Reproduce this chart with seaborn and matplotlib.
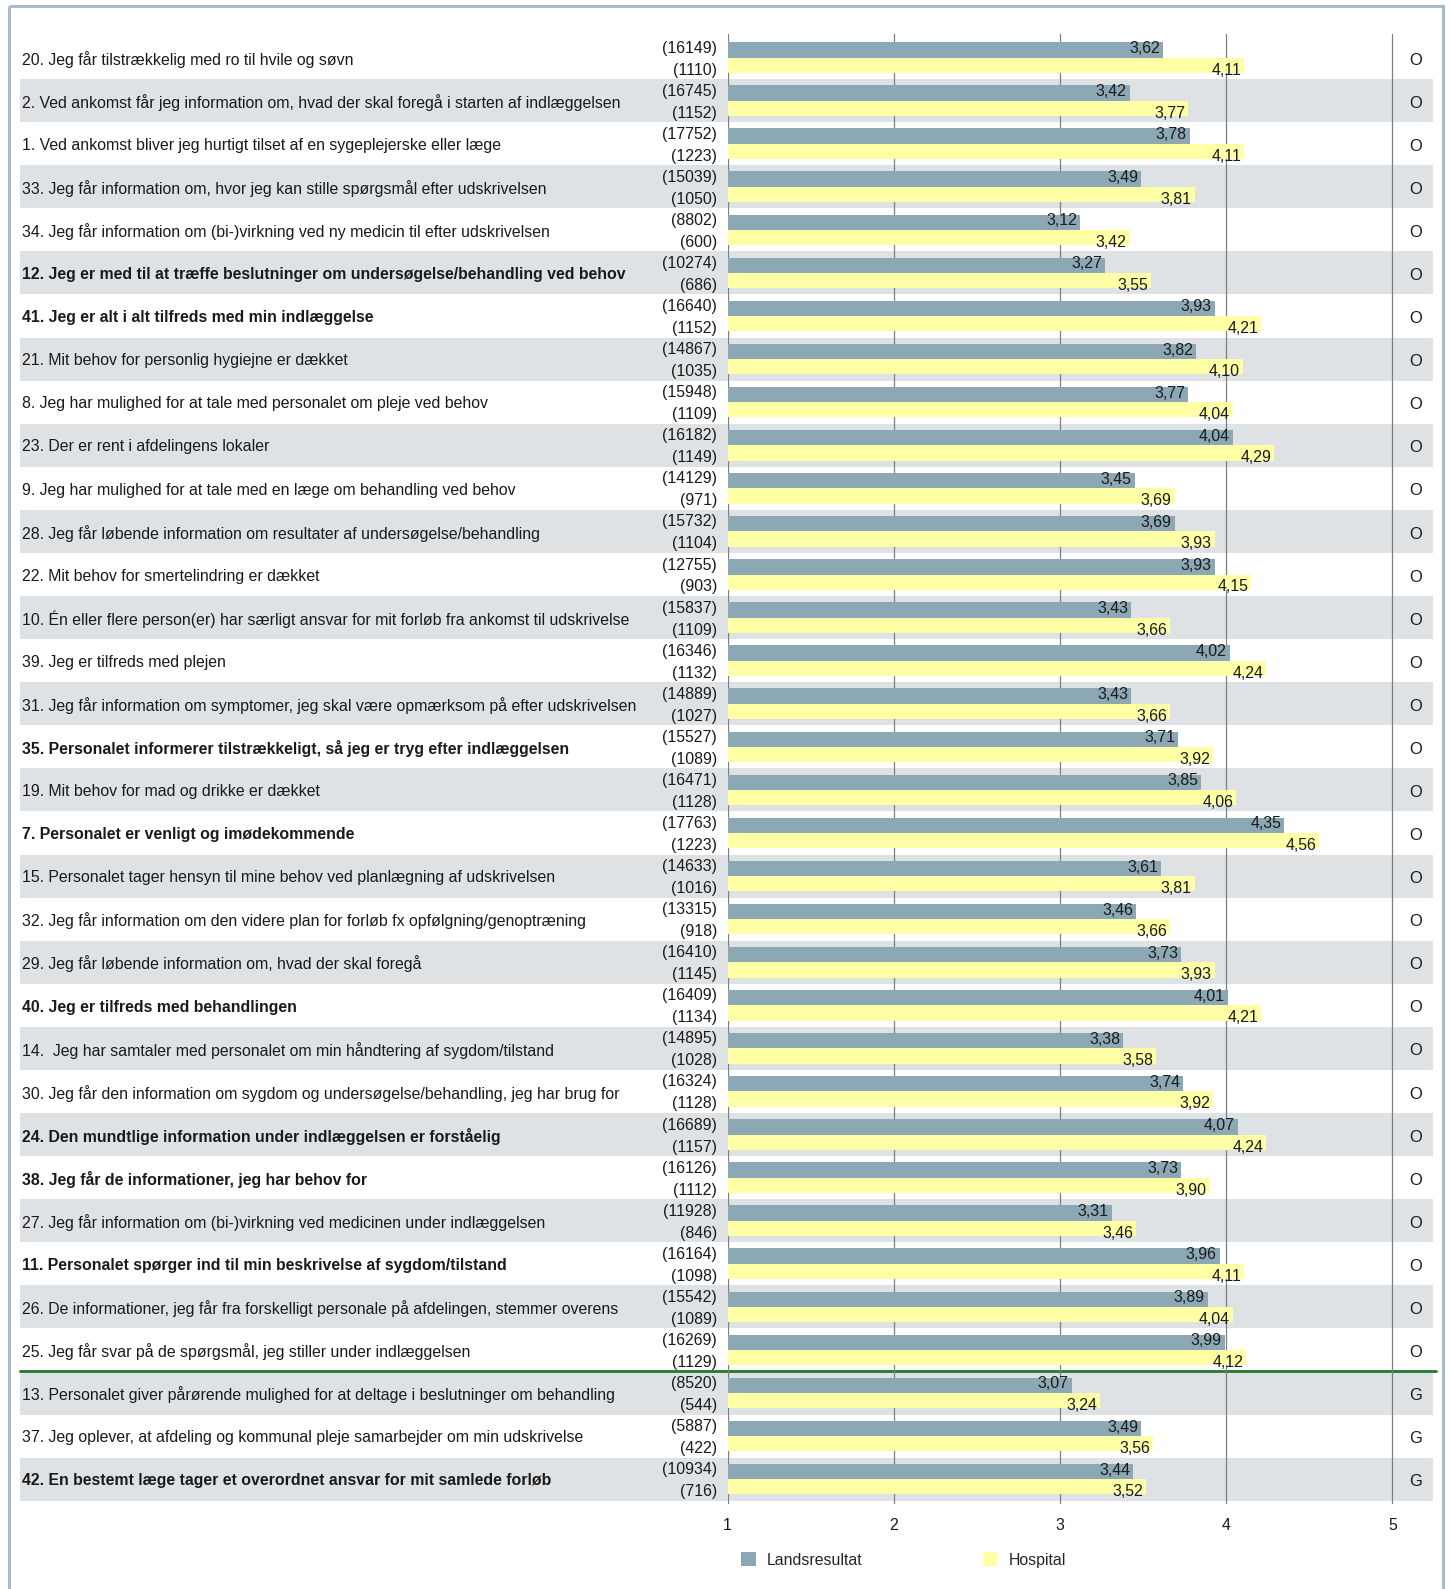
import pandas as pd
import seaborn as sns
import matplotlib.pyplot as plt
import matplotlib.transforms as mtransforms
from matplotlib.patches import Rectangle

# Data
questions = [
    "20. Jeg får tilstrækkelig med ro til hvile og søvn",
    "2. Ved ankomst får jeg information om, hvad der skal foregå i starten af indlæggelsen",
    "1. Ved ankomst bliver jeg hurtigt tilset af en sygeplejerske eller læge",
    "33. Jeg får information om, hvor jeg kan stille spørgsmål efter udskrivelsen",
    "34. Jeg får information om (bi-)virkning ved ny medicin til efter udskrivelsen",
    "12. Jeg er med til at træffe beslutninger om undersøgelse/behandling ved behov",
    "41. Jeg er alt i alt tilfreds med min indlæggelse",
    "21. Mit behov for personlig hygiejne er dækket",
    "8. Jeg har mulighed for at tale med personalet om pleje ved behov",
    "23. Der er rent i afdelingens lokaler",
    "9. Jeg har mulighed for at tale med en læge om behandling ved behov",
    "28. Jeg får løbende information om resultater af undersøgelse/behandling",
    "22. Mit behov for smertelindring er dækket",
    "10. Én eller flere person(er) har særligt ansvar for mit forløb fra ankomst til udskrivelse",
    "39. Jeg er tilfreds med plejen",
    "31. Jeg får information om symptomer, jeg skal være opmærksom på efter udskrivelsen",
    "35. Personalet informerer tilstrækkeligt, så jeg er tryg efter indlæggelsen",
    "19. Mit behov for mad og drikke er dækket",
    "7. Personalet er venligt og imødekommende",
    "15. Personalet tager hensyn til mine behov ved planlægning af udskrivelsen",
    "32. Jeg får information om den videre plan for forløb fx opfølgning/genoptræning",
    "29. Jeg får løbende information om, hvad der skal foregå",
    "40. Jeg er tilfreds med behandlingen",
    "14.  Jeg har samtaler med personalet om min håndtering af sygdom/tilstand",
    "30. Jeg får den information om sygdom og undersøgelse/behandling, jeg har brug for",
    "24. Den mundtlige information under indlæggelsen er forståelig",
    "38. Jeg får de informationer, jeg har behov for",
    "27. Jeg får information om (bi-)virkning ved medicinen under indlæggelsen",
    "11. Personalet spørger ind til min beskrivelse af sygdom/tilstand",
    "26. De informationer, jeg får fra forskelligt personale på afdelingen, stemmer overens",
    "25. Jeg får svar på de spørgsmål, jeg stiller under indlæggelsen",
    "13. Personalet giver pårørende mulighed for at deltage i beslutninger om behandling",
    "37. Jeg oplever, at afdeling og kommunal pleje samarbejder om min udskrivelse",
    "42. En bestemt læge tager et overordnet ansvar for mit samlede forløb",
]
bold_rows = [5, 6, 16, 18, 22, 25, 26, 28, 33]

lands = [3.62, 3.42, 3.78, 3.49, 3.12, 3.27, 3.93, 3.82, 3.77, 4.04, 3.45, 3.69,
         3.93, 3.43, 4.02, 3.43, 3.71, 3.85, 4.35, 3.61, 3.46, 3.73, 4.01, 3.38,
         3.74, 4.07, 3.73, 3.31, 3.96, 3.89, 3.99, 3.07, 3.49, 3.44]
hosp = [4.11, 3.77, 4.11, 3.81, 3.42, 3.55, 4.21, 4.10, 4.04, 4.29, 3.69, 3.93,
        4.15, 3.66, 4.24, 3.66, 3.92, 4.06, 4.56, 3.81, 3.66, 3.93, 4.21, 3.58,
        3.92, 4.24, 3.90, 3.46, 4.11, 4.04, 4.12, 3.24, 3.56, 3.52]
n_lands = [16149, 16745, 17752, 15039, 8802, 10274, 16640, 14867, 15948, 16182,
           14129, 15732, 12755, 15837, 16346, 14889, 15527, 16471, 17763, 14633,
           13315, 16410, 16409, 14895, 16324, 16689, 16126, 11928, 16164, 15542,
           16269, 8520, 5887, 10934]
n_hosp = [1110, 1152, 1223, 1050, 600, 686, 1152, 1035, 1109, 1149, 971, 1104,
          903, 1109, 1132, 1027, 1089, 1128, 1223, 1016, 918, 1145, 1134, 1028,
          1128, 1157, 1112, 846, 1098, 1089, 1129, 544, 422, 716]
groups = ["O"] * 31 + ["G"] * 3
series = ["Landsresultat", "Hospital"]

df = pd.DataFrame({
    "question": questions * 2,
    "value": lands + hosp,
    "serie": [series[0]] * len(questions) + [series[1]] * len(questions),
})

W, H = 1450, 1589
row_top, row_h = 36, 43.08
n = len(questions)
ax_top, ax_bot = 34, 1504
x1_px, x5_px, right_px = 727.6, 1392.4, 1433
unit = (x5_px - x1_px) / 4

sns.set_style("white")
plt.rcParams["font.family"] = ["Liberation Sans", "DejaVu Sans"]
fs = 11.4
txt = "#1a1a1a"

fig = plt.figure(figsize=(W / 100, H / 100), dpi=100)

# background axes in pixel coordinates
bg = fig.add_axes([0, 0, 1, 1], zorder=0)
bg.set_xlim(0, W)
bg.set_ylim(H, 0)
bg.axis("off")

ax = fig.add_axes([x1_px / W, (H - ax_bot) / H, (right_px - x1_px) / W, (ax_bot - ax_top) / H], zorder=1)
ax.patch.set_alpha(0)

sns.barplot(data=df, y="question", x="value", hue="serie", order=questions,
            palette=["#8ca8b5", "#ffffa6"], orient="h", width=0.71, saturation=1,
            errorbar=None, linewidth=0, ax=ax)

y_lo = -0.5 - (row_top - ax_top) / row_h
y_hi = n - 0.5 + (ax_bot - (row_top + n * row_h)) / row_h
ax.set_ylim(y_hi, y_lo)
ax.set_xlim(1, 5 + (right_px - x5_px) / unit)
ax.set_xticks([1, 2, 3, 4, 5])
ax.set_xticklabels(["1", "2", "3", "4", "5"])
ax.set_yticks([])
ax.set_xlabel("")
ax.set_ylabel("")
ax.tick_params(axis="x", length=0, pad=10, labelsize=fs, labelcolor=txt)
ax.grid(axis="x", color="#7f7f7f", linewidth=0.9)
ax.set_axisbelow(True)
sns.despine(ax=ax, left=True, bottom=True)

tr = mtransforms.blended_transform_factory(bg.transData, ax.transData)

# row bands, labels, counts, group letters
for i, q in enumerate(questions):
    if i % 2 == 1:
        bg.add_patch(Rectangle((20, i - 0.5), right_px - 20, 1, transform=tr,
                               facecolor="#dfe2e5", edgecolor="none", zorder=0))
    bg.text(22, i + 0.04, q, transform=tr, ha="left", va="center", fontsize=fs, color=txt,
            fontweight="bold" if i in bold_rows else "normal")
    bg.text(717, i - 0.22, f"({n_lands[i]})", transform=tr, ha="right", va="center",
            fontsize=fs, color=txt)
    bg.text(717, i + 0.29, f"({n_hosp[i]})", transform=tr, ha="right", va="center",
            fontsize=fs, color=txt)
    bg.text(1416, i + 0.06, groups[i], transform=tr, ha="center", va="center",
            fontsize=fs + 0.5, color=txt)

# value labels at bar ends
for i in range(n):
    ax.annotate(f"{lands[i]:.2f}".replace(".", ","), (lands[i], i - 0.21),
                xytext=(-3, 0), textcoords="offset pixels", ha="right", va="center",
                fontsize=fs, color=txt)
    ax.annotate(f"{hosp[i]:.2f}".replace(".", ","), (hosp[i], i + 0.29),
                xytext=(-3, 0), textcoords="offset pixels", ha="right", va="center",
                fontsize=fs, color=txt)

# separator between O and G questions
split = groups.index("G") - 0.5
bg.plot([20, 1436], [split, split], transform=tr, color="#1e7a2e", linewidth=2, zorder=5)

# outer frame
bg.add_patch(Rectangle((9, 6), 1434, 1600, fill=False, edgecolor="#a7bccb",
                       linewidth=2.2, clip_on=False))

sns.move_legend(ax, loc="center left", bbox_to_anchor=((741 - x1_px) / (right_px - x1_px), (ax_bot - 1560) / (ax_bot - ax_top)),
                ncol=2, frameon=False, title=None, fontsize=fs, handlelength=0.93,
                handleheight=0.93, handletextpad=0.7, columnspacing=7.6,
                borderpad=0, borderaxespad=0)

fig.savefig("out.png", dpi=100)
